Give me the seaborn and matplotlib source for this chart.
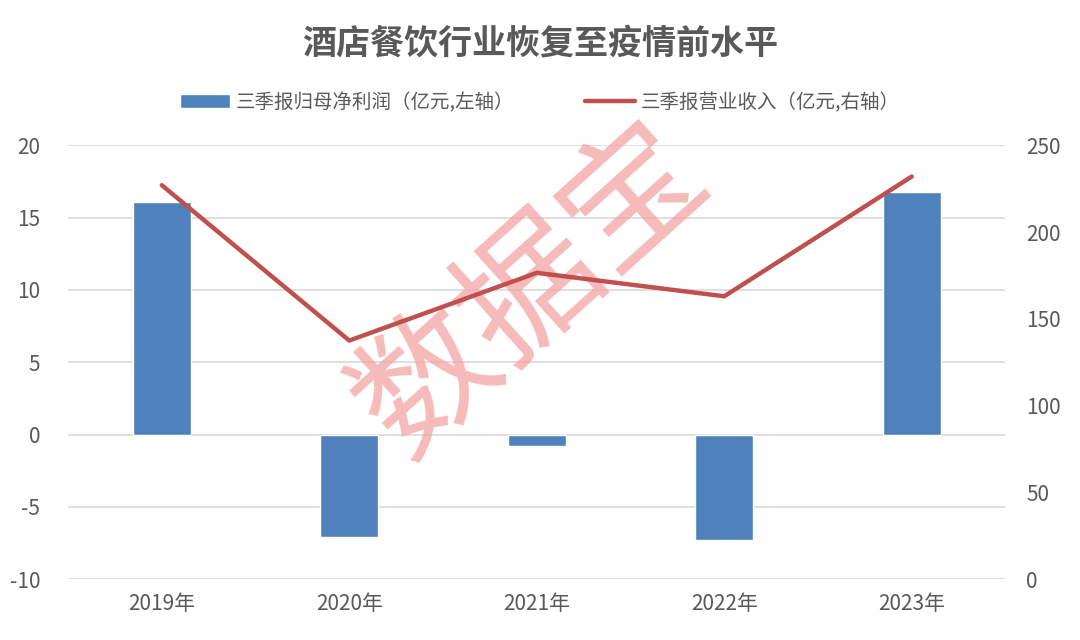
import pandas as pd
import numpy as np
import matplotlib
matplotlib.use("Agg")
import matplotlib.pyplot as plt
import seaborn as sns

# data
years = ['2019年', '2020年', '2021年', '2022年', '2023年']
net_profit = [16.1, -7.1, -0.8, -7.3, 16.8]        # 亿元, left axis
revenue = [227.0, 137.5, 176.5, 163.0, 232.0]      # 亿元, right axis

bar_label = '三季报归母净利润（亿元,左轴）'
line_label = '三季报营业收入（亿元,右轴）'

df = pd.DataFrame({'year': years, 'profit': net_profit, 'revenue': revenue})
df['pos'] = np.arange(len(df))

sns.set_style('white')
plt.rcParams['font.family'] = ['Noto Sans CJK SC', 'DejaVu Sans']
plt.rcParams['axes.unicode_minus'] = False

grey = '#595959'
fig = plt.figure(figsize=(10.8, 6.4), dpi=100)
ax = fig.add_axes([0.063, 0.095, 0.868, 0.678])

sns.barplot(data=df, x='year', y='profit', color='#4F81BD', saturation=1,
            width=0.31, ax=ax, label=bar_label, zorder=2)
ax.set_ylim(-10, 20)
ax.set_yticks(range(-10, 21, 5))
ax.set_xlim(-0.5, 4.5)
ax.grid(axis='y', color='#d9d9d9', linewidth=1.2, zorder=0)
ax.set_axisbelow(True)

ax2 = ax.twinx()
sns.lineplot(data=df, x='pos', y='revenue', color='#C0504D', linewidth=3.2,
             ax=ax2, label=line_label, zorder=3)
ax2.set_ylim(0, 250)
ax2.set_yticks(range(0, 251, 50))
ax2.set_xlim(-0.5, 4.5)

for a in (ax, ax2):
    a.set_xlabel('')
    a.set_ylabel('')
    for s in a.spines.values():
        s.set_visible(False)
    a.tick_params(axis='both', length=0, labelsize=15, colors=grey, pad=10)
ax.set_xticks(range(len(years)))
ax.set_xticklabels(years)
ax.tick_params(axis='y', pad=20)
ax2.tick_params(axis='y', pad=15)

# combined legend
h1, l1 = ax.get_legend_handles_labels()
h2, l2 = ax2.get_legend_handles_labels()
if ax2.get_legend():
    ax2.get_legend().remove()
if ax.get_legend():
    ax.get_legend().remove()
fig.legend(h1 + h2, l1 + l2, loc='center', bbox_to_anchor=(0.5, 0.84), ncol=2,
           frameon=False, fontsize=14, labelcolor=grey, handlelength=2.6,
           columnspacing=3.6, handletextpad=0.3)

fig.suptitle('酒店餐饮行业恢复至疫情前水平', x=0.5, y=0.96, fontsize=24.5,
             fontweight='bold', color=grey)

# watermark
ax2.text(0.495, 0.665, '数据宝', transform=ax2.transAxes, fontsize=100,
         color='#f4a3a3', alpha=0.75, rotation=42, ha='center', va='center',
         zorder=1)

fig.savefig('out.png', dpi=100)
